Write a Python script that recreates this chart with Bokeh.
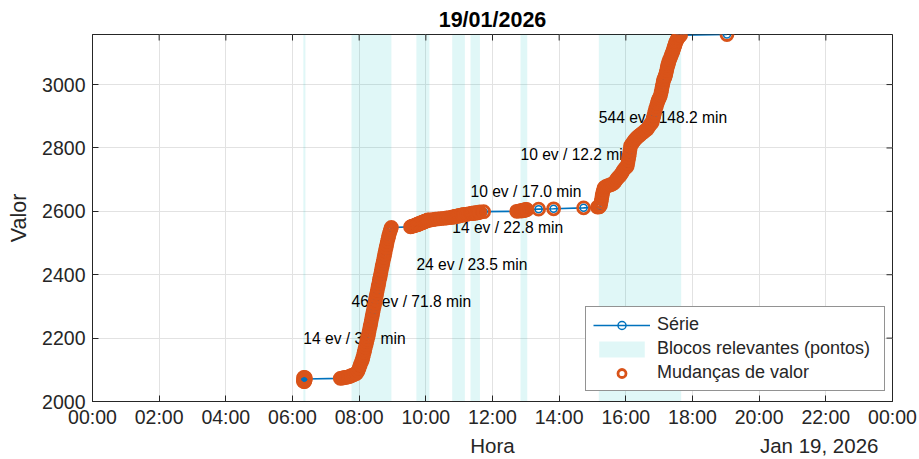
import numpy as np
import pandas as pd
from bokeh.plotting import figure
from bokeh.models import (ColumnDataSource, Range1d, FixedTicker, DatetimeTickFormatter,
                          LinearAxis, Legend, LegendItem)
from bokeh.core.properties import value
from bokeh.embed import file_html
from bokeh.resources import INLINE

DIA = pd.Timestamp("2026-01-19")

# Série: minutos desde 00:00 e valor lido em cada instante
minutos = [
    379.6, 379.9, 380.1, 380.4, 380.6, 380.9, 381.1, 381.4, 381.7, 381.9, 382.2, 382.5, 382.8, 383.1,
    446.0,
    449.0, 452.0, 455.0, 458.0, 461.0, 463.5, 466.5, 469.5, 472.5, 475.5, 478.0, 480.0, 482.0, 484.0, 485.5,
    486.6, 487.7, 489.0, 490.1, 491.2, 492.6, 493.7, 494.8, 496.2, 497.3, 498.4, 499.8, 500.9, 502.0,
    503.4, 504.5, 505.6, 507.0, 508.1, 509.2, 510.6, 511.7, 512.8, 514.2, 515.3, 516.4, 517.8, 518.9,
    520.0, 521.4, 522.5, 523.6, 525.0, 526.1, 527.2, 528.6, 529.7, 530.8, 532.2, 533.3, 534.4, 535.8,
    536.9, 538.0,
    572.4, 574.0, 575.8, 577.6, 579.4, 581.2, 582.6,
    583.5, 584.5, 585.4, 586.3, 587.3, 588.2, 589.1, 590.1, 591.0, 592.0, 592.9, 593.8, 594.8, 595.7,
    596.6, 597.6, 598.5, 599.4, 600.4, 601.3, 602.3, 603.2, 604.1, 605.6,
    609.0, 613.0, 617.0, 622.0, 627.0, 632.0, 637.0, 642.0, 646.0,
    648.0, 649.7, 651.4, 653.1, 654.8, 656.5, 658.2, 659.9, 661.6, 663.3, 665.0, 666.7, 668.4, 670.0,
    674.0, 677.5,
    681.0, 682.8, 684.7, 686.6, 688.5, 690.4, 692.3, 694.2, 696.0, 697.2,
    704.0,
    763.5, 767.0,
    771.0, 772.2, 773.4, 774.6, 775.8, 777.0, 778.2, 779.4, 780.6, 782.0,
    803.0, 830.0, 884.0, 909.0,
    911.8, 913.0, 914.5, 915.5, 916.5, 917.5, 918.5, 920.0, 921.5, 923.5, 926.5, 929.5, 932.5, 935.5,
    938.5, 941.0, 943.5, 946.0, 948.5, 950.4, 953.0, 955.5, 958.0, 960.5, 962.4, 963.5, 964.5, 965.5,
    966.5, 967.5, 968.4, 970.5, 973.0, 975.5, 978.0, 980.5, 983.4, 986.0, 989.0, 992.0, 995.0, 998.4,
    1001.0, 1003.5, 1005.5, 1007.4, 1009.0, 1010.5, 1012.0, 1013.4, 1015.0, 1016.5, 1018.0, 1019.5,
    1021.0, 1022.4, 1023.5, 1024.5, 1025.5, 1026.5, 1027.5, 1028.5, 1029.5, 1030.5, 1031.4, 1032.5,
    1033.5, 1034.5, 1035.5, 1036.5, 1037.4, 1039.0, 1040.5, 1042.0, 1043.5, 1045.0, 1046.4, 1047.5,
    1048.5, 1049.5, 1050.5, 1052.0, 1053.5, 1055.4, 1057.0, 1058.6,
    1142.0,
]
valores = [
    2064, 2074, 2067, 2076, 2063, 2071, 2066, 2075, 2069, 2063, 2073, 2066, 2075, 2071,
    2073,
    2074, 2075, 2076, 2077, 2078, 2080, 2082, 2084, 2086, 2089, 2097, 2106, 2116, 2125, 2131,
    2138, 2146, 2155, 2163, 2172, 2180, 2189, 2197, 2206, 2216, 2226, 2237, 2247, 2257,
    2268, 2279, 2289, 2300, 2310, 2321, 2331, 2342, 2352, 2363, 2373, 2384, 2394, 2405,
    2415, 2426, 2436, 2446, 2456, 2466, 2476, 2486, 2496, 2506, 2515, 2523, 2531, 2538,
    2544, 2549,
    2551, 2552, 2553, 2554, 2555, 2556, 2557,
    2558, 2559, 2558, 2560, 2561, 2560, 2562, 2563, 2562, 2564, 2565, 2564, 2566, 2567,
    2566, 2568, 2569, 2568, 2570, 2571, 2570, 2572, 2573, 2572,
    2573, 2574, 2575, 2576, 2577, 2578, 2579, 2580, 2581,
    2582, 2583, 2582, 2584, 2585, 2584, 2586, 2587, 2586, 2588, 2589, 2588, 2590, 2589,
    2591, 2592,
    2593, 2594, 2593, 2595, 2594, 2596, 2595, 2597, 2596, 2598,
    2599,
    2600, 2601,
    2602, 2601, 2603, 2602, 2604, 2603, 2605, 2604, 2606, 2605,
    2607, 2608, 2611, 2613,
    2614, 2616, 2620, 2630, 2640, 2650, 2660, 2670, 2675, 2678, 2680, 2682, 2684, 2686,
    2689, 2695, 2701, 2707, 2711, 2715, 2722, 2729, 2735, 2739, 2742, 2752, 2762, 2772,
    2782, 2794, 2806, 2812, 2818, 2824, 2829, 2834, 2838, 2842, 2846, 2850, 2855, 2859,
    2866, 2873, 2878, 2880, 2892, 2902, 2912, 2923, 2932, 2941, 2949, 2955,
    2960, 2966, 2975, 2984, 2993, 3002, 3010, 3016, 3021, 3025, 3029, 3037,
    3045, 3053, 3060, 3066, 3072, 3079, 3086, 3093, 3100, 3107, 3114, 3120,
    3126, 3131, 3136, 3141, 3146, 3150, 3154, 3156,
    3158,
]

# Blocos relevantes: início (min), duração (min), nº de eventos, altura do rótulo
bloco_inicio_min = [379.5, 466.2, 583.0, 647.5, 680.4, 770.4, 911.4]
bloco_duracao_min = [3.7, 71.8, 23.5, 22.8, 17.0, 12.2, 148.2]
bloco_eventos = [14, 463, 24, 14, 10, 10, 544]
rotulo_valor = [2200, 2316, 2432, 2548, 2664, 2780, 2896]

HORAS_TICKS = list(range(0, 25, 2))
VALOR_TICKS = [2000, 2200, 2400, 2600, 2800, 3000]
Y_MIN = 2000

AZUL = "#0072BD"
LARANJA = "#D95319"
CIANO = "#00BEBE"
CINZA = "#262626"
FONTE = "Liberation Sans"

t = DIA + pd.to_timedelta(np.array(minutos), unit="m")
v = np.array(valores, dtype=float)
mudou = np.r_[True, np.diff(v) != 0]
y_max = float(v.max())

serie = ColumnDataSource(dict(t=t, v=v))
mudancas = ColumnDataSource(dict(t=t[mudou], v=v[mudou]))

ini = DIA + pd.to_timedelta(np.array(bloco_inicio_min), unit="m")
fim = ini + pd.to_timedelta(np.array(bloco_duracao_min), unit="m")
n = len(bloco_inicio_min)
blocos = ColumnDataSource(dict(
    left=ini, right=fim, bottom=[Y_MIN] * n, top=[y_max] * n,
    ry=rotulo_valor,
    rot=[f"{e} ev / {d:.1f} min" for e, d in zip(bloco_eventos, bloco_duracao_min)],
))

x0 = DIA
x1 = DIA + pd.Timedelta(days=1)
x0_ms = x0.value / 1e6
x1_ms = x1.value / 1e6
p = figure(width=919, height=459, output_backend="svg", toolbar_location=None,
           x_axis_type="datetime", x_range=Range1d(x0, x1), y_range=Range1d(Y_MIN, y_max),
           min_border_left=92, min_border_right=27, min_border_top=34, min_border_bottom=57,
           background_fill_color="white", border_fill_color="white")

tick_ms = [(DIA + pd.Timedelta(hours=h)).value / 1e6 for h in HORAS_TICKS]
x_ticker = FixedTicker(ticks=tick_ms)
y_ticker = FixedTicker(ticks=VALOR_TICKS)
fmt = DatetimeTickFormatter(milliseconds="%H:%M", seconds="%H:%M", minsec="%H:%M",
                            minutes="%H:%M", hourmin="%H:%M", hours="%H:%M",
                            days="%H:%M", months="%H:%M", years="%H:%M")

p.title.text = "19/01/2026"
p.title.align = "center"
p.title.text_font = FONTE
p.title.text_font_size = "21.5px"
p.title.text_font_style = "bold"
p.title.text_color = "black"
p.title.standoff = 6

p.outline_line_color = CINZA
p.outline_line_width = 1

for ax in (p.xaxis[0], p.yaxis[0]):
    ax.major_label_text_font = FONTE
    ax.major_label_text_font_size = "19.5px"
    ax.major_label_text_color = CINZA
    ax.axis_label_text_font = FONTE
    ax.axis_label_text_font_size = "21.5px"
    ax.axis_label_text_font_style = "normal"
    ax.axis_label_text_color = CINZA
    ax.axis_line_color = CINZA
    ax.major_tick_line_color = CINZA
    ax.major_tick_in = 6
    ax.major_tick_out = 0
    ax.minor_tick_line_color = None

p.xaxis[0].ticker = x_ticker
p.xaxis[0].formatter = fmt
p.xaxis[0].major_label_standoff = 4

p.yaxis[0].ticker = y_ticker
p.yaxis[0].axis_label = "Valor"
p.yaxis[0].major_label_standoff = 7
p.yaxis[0].axis_label_standoff = 8

# Segunda linha sob o eixo x: título do eixo ao centro e a data à direita
POS_HORA = (x0_ms + x1_ms) / 2
POS_DATA = x0_ms + 21.8 * 3600e3
legenda_x = LinearAxis(ticker=FixedTicker(ticks=[POS_HORA, POS_DATA]),
                       major_label_overrides={POS_HORA: "Hora", POS_DATA: "Jan 19, 2026"},
                       major_label_text_font=FONTE, major_label_text_font_size="20.5px",
                       major_label_text_color=CINZA, major_label_standoff=3,
                       major_tick_line_color=None, major_tick_in=0, major_tick_out=0,
                       minor_tick_line_color=None, axis_line_color=None)
p.add_layout(legenda_x, "below")

p.xgrid.ticker = x_ticker
p.ygrid.ticker = y_ticker
for g in (p.xgrid[0], p.ygrid[0]):
    g.grid_line_color = "#e2e2e2"
    g.grid_line_width = 1

# Faixas dos blocos relevantes
r_blocos = p.quad(left="left", right="right", bottom="bottom", top="top", source=blocos,
                  fill_color=CIANO, fill_alpha=0.12, line_color=None)

# Rótulos dos blocos (por baixo dos marcadores)
p.text(x="left", y="ry", text="rot", source=blocos, text_font=value(FONTE),
       text_font_size="15.6px", text_baseline="middle", text_align="left",
       text_color="black")

r_linha = p.line("t", "v", source=serie, line_color=AZUL, line_width=1.6)
r_pts = p.scatter("t", "v", source=serie, marker="circle", size=7, fill_color=None,
                  line_color=AZUL, line_width=1.5)
r_mud = p.scatter("t", "v", source=mudancas, marker="circle", size=12, fill_color=None,
                  line_color=LARANJA, line_width=2.8)

# Marcas de escala nas bordas superior e direita (metade externa fica recortada)
p.scatter(x=tick_ms, y=[y_max] * len(tick_ms), marker="dash", angle=np.pi / 2,
          size=12, line_color=CINZA, line_width=1)
p.scatter(x=[x1_ms] * len(VALOR_TICKS), y=VALOR_TICKS, marker="dash",
          size=12, line_color=CINZA, line_width=1)

legenda = Legend(items=[
    LegendItem(label="Série", renderers=[r_linha, r_pts]),
    LegendItem(label="Blocos relevantes (pontos)", renderers=[r_blocos]),
    LegendItem(label="Mudanças de valor", renderers=[r_mud]),
], location=(493, 10), label_text_font=FONTE, label_text_font_size="18px",
    label_text_color=CINZA, glyph_width=57, glyph_height=20, label_height=20,
    label_width=220, spacing=3, padding=7, label_standoff=7, margin=0,
    border_line_color=CINZA, border_line_width=1,
    background_fill_color="white", background_fill_alpha=1)
p.add_layout(legenda)

open("out.html", "w").write(file_html(p, INLINE))
